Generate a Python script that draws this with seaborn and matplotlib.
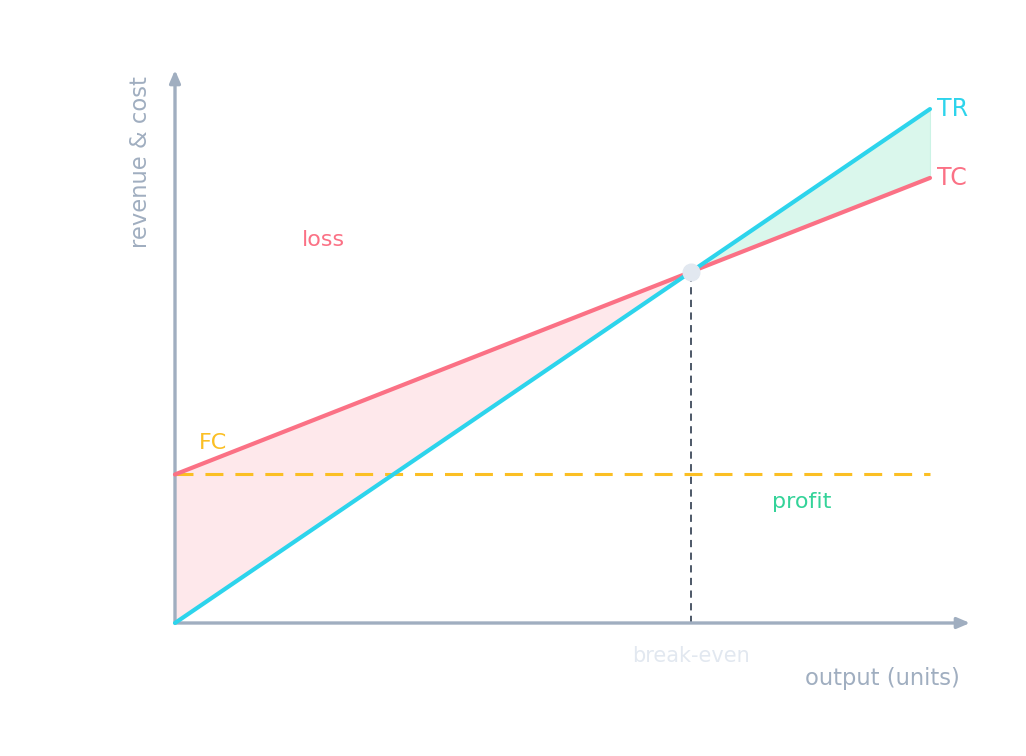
import numpy as np
import pandas as pd
import matplotlib
matplotlib.use("Agg")
import matplotlib.pyplot as plt
import seaborn as sns

# ---- data ----
output_units = [0, 100]
total_revenue = [0, 1000]
total_cost = [289, 866]
fixed_cost = [289, 289]

C_TR = "#2dd4ec"
C_TC = "#fb7185"
C_FC = "#fbbf24"
C_PROFIT = "#34d399"
C_AXIS = "#a0aec0"
C_BE = "#e2e8f0"
C_VLINE = "#3f4b5c"

sns.set_style("white")
plt.rcParams['font.family'] = ['DejaVu Sans']

df = pd.DataFrame({"q": output_units, "TR": total_revenue, "TC": total_cost, "FC": fixed_cost})

# break-even from the data
price = (total_revenue[1] - total_revenue[0]) / (output_units[1] - output_units[0])
vc = (total_cost[1] - total_cost[0]) / (output_units[1] - output_units[0])
be_q = fixed_cost[0] / (price - vc)
be_v = price * be_q

fig = plt.figure(figsize=(10.26, 7.56), dpi=100)
ax = fig.add_axes([175/1026, 133/756, 795/1026, 553/756])
ax.set_xlim(0, 105.3)
ax.set_ylim(0, 1076)
for s in ax.spines.values():
    s.set_visible(False)
ax.set_xticks([]); ax.set_yticks([])

# fills
qq = np.array([0, be_q])
ax.fill_between(qq, fixed_cost[0] + vc * qq, price * qq, color=C_TC, alpha=0.16, lw=0, zorder=1)
qq2 = np.array([be_q, output_units[1]])
ax.fill_between(qq2, fixed_cost[0] + vc * qq2, price * qq2, color=C_PROFIT, alpha=0.18, lw=0.8,
                edgecolor=(0.2, 0.83, 0.6, 0.25), zorder=1)

# lines
sns.lineplot(data=df, x="q", y="FC", ax=ax, color=C_FC, lw=2.2, zorder=3)
ax.lines[-1].set_dashes((5.88, 3.92))
sns.lineplot(data=df, x="q", y="TC", ax=ax, color=C_TC, lw=3, zorder=4)
sns.lineplot(data=df, x="q", y="TR", ax=ax, color=C_TR, lw=3, zorder=5)
for ln in ax.lines:
    ln.set_clip_on(False)
ax.set_xlabel(""); ax.set_ylabel("")

# break-even guide and marker
ax.plot([be_q, be_q], [0, be_v], color=C_VLINE, lw=1.3, dashes=(4, 3), zorder=2)
ax.plot([be_q], [be_v], marker="o", ms=12, color=C_BE, mec=C_BE, zorder=6, clip_on=False)

# axes arrows
arrow = dict(arrowstyle="-|>,head_length=0.75,head_width=0.32", color=C_AXIS, lw=2.4,
             shrinkA=0, shrinkB=0)
ax.annotate("", xy=(1, 0), xytext=(0, 0), xycoords="axes fraction", arrowprops=arrow, zorder=2)
ax.annotate("", xy=(0, 1), xytext=(0, 0), xycoords="axes fraction", arrowprops=arrow, zorder=2)

# labels
ax.annotate("TR", xy=(output_units[1], total_revenue[1]), xytext=(5, 0), textcoords="offset points",
            color=C_TR, fontsize=17, ha="left", va="center")
ax.annotate("TC", xy=(output_units[1], total_cost[1]), xytext=(5, 0), textcoords="offset points",
            color=C_TC, fontsize=17, ha="left", va="center")
ax.annotate("FC", xy=(0, fixed_cost[0]), xytext=(17, 23), textcoords="offset points",
            color=C_FC, fontsize=16, ha="left", va="center")
ax.text(19.7, 745, "loss", color=C_TC, fontsize=16, ha="center", va="center")
ax.text(83.0, 235, "profit", color=C_PROFIT, fontsize=16, ha="center", va="center")
ax.text(be_q, -0.0597, "break-even", color=C_BE, fontsize=15, ha="center", va="center",
        transform=ax.get_xaxis_transform())
ax.text(0.9874, -0.0995, "output (units)", color=C_AXIS, fontsize=16.3, ha="right", va="center",
        transform=ax.transAxes)
ax.text(-0.0428, 0.8336, "revenue & cost", color=C_AXIS, fontsize=16.3, ha="center", va="center",
        rotation=90, transform=ax.transAxes)

fig.savefig("out.png", dpi=100, facecolor="white")
